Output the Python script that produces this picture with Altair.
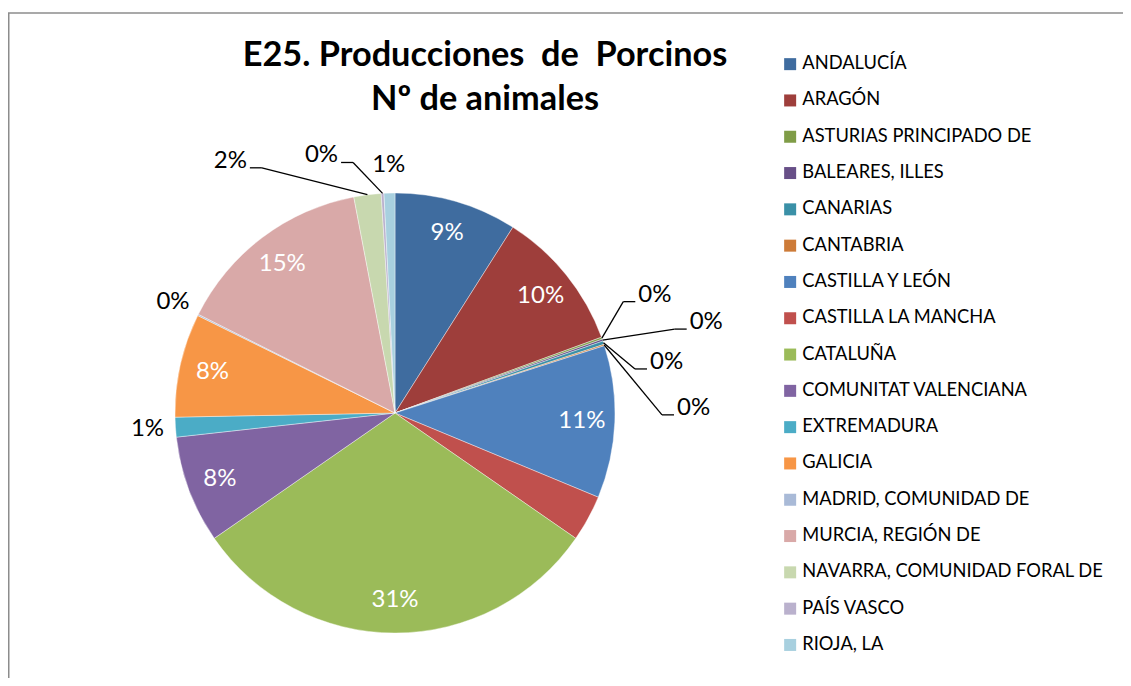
import altair as alt
import numpy as np
import pandas as pd

# ---------------- data ----------------
regions = [
    "ANDALUCÍA", "ARAGÓN", "ASTURIAS PRINCIPADO DE", "BALEARES, ILLES", "CANARIAS",
    "CANTABRIA", "CASTILLA Y LEÓN", "CASTILLA LA MANCHA", "CATALUÑA",
    "COMUNITAT VALENCIANA", "EXTREMADURA", "GALICIA", "MADRID, COMUNIDAD DE",
    "MURCIA, REGIÓN DE", "NAVARRA, COMUNIDAD FORAL DE", "PAÍS VASCO", "RIOJA, LA",
]
shares = [9.0, 10.4, 0.15, 0.15, 0.25, 0.1, 11.2, 3.4, 30.7, 7.9, 1.45, 7.6, 0.1, 14.6, 2.0, 0.2, 0.8]
colors = [
    "#3F6C9F", "#9E3E3B", "#7F9C47", "#674F87", "#3A90A7", "#CD7B38",
    "#4F81BD", "#C0504D", "#9BBB59", "#8064A2", "#4BACC6", "#F79646",
    "#A9BAD7", "#D9A9A8", "#C8D8AF", "#BAB1CD", "#A8D0DF",
]
title_lines = ["E25. Producciones\u00a0\u00a0de\u00a0\u00a0Porcinos", "Nº de animales"]

# label styling groups
inside_labels = ["ANDALUCÍA", "ARAGÓN", "CASTILLA Y LEÓN", "CATALUÑA",
                 "COMUNITAT VALENCIANA", "GALICIA", "MURCIA, REGIÓN DE"]
hidden_labels = ["CASTILLA LA MANCHA"]
# labels moved away by hand (elbow angle in degrees, elbow radius, side)
moved_labels = {
    "ASTURIAS PRINCIPADO DE": (64.0, 254, 1),
    "BALEARES, ILLES": (73.3, 292, 1),
    "CANARIAS": (79.6, 244, 1),
    "CANTABRIA": (90.4, 267, 1),
    "NAVARRA, COMUNIDAD FORAL DE": (331.5, 279, -1),
    "PAÍS VASCO": (350.5, 254, -1),
}

# ---------------- layout ----------------
W, H = 1115, 670
CX, CY = 387, 405
R = 220
R_IN = 187
R_OUT = 248
FONT = "Lato"

# ---------------- tables ----------------
df = pd.DataFrame({"region": regions, "value": shares, "idx": range(len(regions))})
total = df["value"].sum()
df["pct"] = df["value"] / total * 100
end = df["value"].cumsum() / total
start = end - df["value"] / total
df["mid"] = (start + end) / 2 * 2 * np.pi
df["label"] = [f"{int(round(p))}%" for p in df["pct"]]

rows_in, rows_out, rows_right, rows_left, segs = [], [], [], [], []
for _, r in df.iterrows():
    reg = r["region"]
    th = r["mid"]
    if reg in hidden_labels:
        continue
    if reg in inside_labels:
        rows_in.append({"x": R_IN * np.sin(th), "y": R_IN * np.cos(th), "t": r["label"]})
    elif reg in moved_labels:
        ang, rad, side = moved_labels[reg]
        a = np.deg2rad(ang)
        ex, ey = rad * np.sin(a), rad * np.cos(a)
        sx, sy = R * np.sin(th), R * np.cos(th)
        hx = ex + side * 12
        segs.append({"x": sx, "y": sy, "x2": ex, "y2": ey})
        segs.append({"x": ex, "y": ey, "x2": hx, "y2": ey})
        row = {"x": hx + side * 3, "y": ey, "t": r["label"]}
        (rows_right if side > 0 else rows_left).append(row)
    else:
        rows_out.append({"x": R_OUT * np.sin(th), "y": R_OUT * np.cos(th), "t": r["label"]})

xs = alt.Scale(domain=[-CX, W - CX], range=[0, W], nice=False, zero=False)
ys = alt.Scale(domain=[-(H - CY), CY], range=[H, 0], nice=False, zero=False)

def pos_text(rows, color, align, baseline):
    return alt.Chart(pd.DataFrame(rows)).mark_text(
        font=FONT, fontSize=24, color=color, align=align, baseline=baseline
    ).encode(
        x=alt.X("x:Q", scale=xs, axis=None),
        y=alt.Y("y:Q", scale=ys, axis=None),
        text="t:N",
    )

pie = alt.Chart(df).mark_arc(outerRadius=R, stroke="white", strokeWidth=0.4).encode(
    theta=alt.Theta("value:Q", stack=True),
    order=alt.Order("idx:Q"),
    color=alt.Color(
        "region:N",
        scale=alt.Scale(domain=regions, range=colors),
        sort=None,
        legend=alt.Legend(
            title=None, orient="none", legendX=773, legendY=47,
            symbolType="square", symbolSize=144, symbolStrokeWidth=0,
            labelFont=FONT, labelFontSize=18.3, labelColor="#000000",
            labelOffset=3, rowPadding=17.3, labelLimit=500, padding=0,
        ),
    ),
    x=alt.value(CX),
    y=alt.value(CY),
)

leaders = alt.Chart(pd.DataFrame(segs)).mark_rule(color="black", strokeWidth=1.3).encode(
    x=alt.X("x:Q", scale=xs, axis=None),
    y=alt.Y("y:Q", scale=ys, axis=None),
    x2="x2:Q",
    y2="y2:Q",
)

t_in = pos_text(rows_in, "white", "center", "middle")
t_out = pos_text(rows_out, "black", "center", "middle")
t_right = pos_text(rows_right, "black", "left", "alphabetic")
t_left = pos_text(rows_left, "black", "right", "alphabetic")

title1 = alt.Chart(pd.DataFrame({"t": [title_lines[0]]})).mark_text(
    font=FONT, fontSize=34.3, fontWeight="bold", color="black", align="center", baseline="alphabetic"
).encode(x=alt.value(477), y=alt.value(58), text="t:N")
title2 = alt.Chart(pd.DataFrame({"t": [title_lines[1]]})).mark_text(
    font=FONT, fontSize=34.3, fontWeight="bold", color="black", align="center", baseline="alphabetic"
).encode(x=alt.value(477), y=alt.value(102), text="t:N")

border_top = alt.Chart(pd.DataFrame({"a": [0]})).mark_rule(color="#8c8c8c", strokeWidth=1.5).encode(
    x=alt.value(0), x2=alt.value(W), y=alt.value(5)
)
border_left = alt.Chart(pd.DataFrame({"a": [0]})).mark_rule(color="#8c8c8c", strokeWidth=1.5).encode(
    x=alt.value(0.75), y=alt.value(5), y2=alt.value(H)
)

chart = alt.layer(
    border_top, border_left, pie, leaders, t_in, t_out, t_right, t_left, title1, title2
).properties(
    width=W, height=H, padding=0, autosize=alt.AutoSizeParams(type="none"),
    background="white",
).configure_view(stroke=None)

chart.save("out.html", embed_options={"renderer": "svg", "actions": False})
